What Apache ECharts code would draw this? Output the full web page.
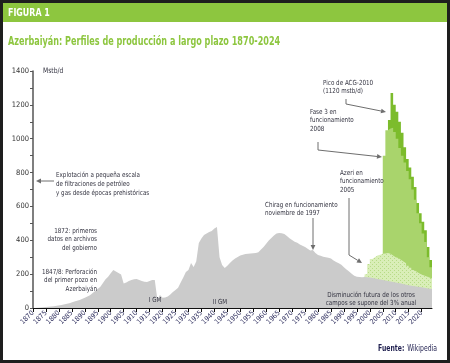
<!DOCTYPE html>
<html><head><meta charset="utf-8">
<script src="https://cdn.jsdelivr.net/npm/echarts@6/dist/echarts.min.js"></script>
<style>html,body{margin:0;padding:0;background:#fff}#c{width:450px;height:363px}</style>
</head><body><div id="c"></div>
<script>
// ---- data ----
const grayYears = [1870,1872,1873,1875,1878,1881,1884,1886,1888,1890,1892,1894,1896,1898,1899,1900,1901,1902,1903,1904,1905,1906,1907,1908,1909,1910,1911,1912,1913,1914,1915,1916,1917,1918,1919,1920,1921,1922,1923,1924,1925,1926,1927,1928,1929,1930,1931,1932,1933,1934,1935,1936,1937,1938,1939,1940,1941,1942,1943,1944,1945,1946,1947,1948,1949,1950,1952,1954,1956,1957,1958,1959,1960,1961,1962,1963,1964,1965,1966,1967,1968,1969,1970,1971,1972,1973,1974,1975,1976,1977,1978,1979,1980,1981,1982,1983,1984,1985,1986,1987,1988,1989,1990,1991,1992,1993,1994,1995,1996,1997,1998,2000,2002,2004,2006,2008,2010,2012,2014,2016,2018,2020,2022,2024];
const grayVals  = [0,1,3,6,10,18,28,38,47,60,75,100,125,170,185,205,224,215,207,198,145,150,160,165,170,171,165,160,155,153,160,165,165,50,77,60,62,68,80,95,106,120,150,180,213,225,266,242,275,384,410,431,440,449,455,470,478,300,254,236,250,266,280,292,301,310,319,322,325,330,345,360,380,398,413,428,440,443,442,437,425,412,402,392,385,375,368,360,350,340,343,325,313,308,303,300,297,292,280,272,265,255,240,228,215,203,190,185,183,182,183,180,175,168,162,156,150,144,138,132,127,122,117,112];

const fieldYears = [1997,1998,1999,2000,2001,2002,2003,2004,2005,2006,2007,2008,2009,2010,2011,2012,2013,2014,2015,2016,2017,2018,2019,2020,2021,2022,2023,2024];
// cumulative top of the dotted early-oil band (Chirag/Azeri)
const earlyTotal = [null,200,260,290,300,310,315,320,322,325,320,310,300,295,285,275,265,250,238,225,215,205,198,192,186,180,175,170];
// cumulative top of the light-green band
const midTotal   = [null,null,null,null,null,null,null,null,900,1050,1060,1065,1040,1000,945,900,860,810,760,700,640,560,500,440,390,300,240,240];
// cumulative top of the dark-green band (ACG)
const acgTotal   = [null,null,null,null,null,null,null,null,null,null,1110,1270,1200,1160,1100,1035,950,880,830,775,715,620,560,510,460,360,283,283];

const yTicks = [0,200,400,600,800,1000,1200,1400];

const pair = (xs, ys) => xs.map((x,i)=>[x, ys[i]]);

function dotPattern(){
  const c=document.createElement('canvas'); c.width=4; c.height=4;
  const g=c.getContext('2d');
  g.fillStyle='#d9eeb8'; g.fillRect(0,0,4,4);
  g.fillStyle='#b7db86'; g.fillRect(0,0,1,1); g.fillRect(2,2,1,1);
  return c;
}

const FONT = '"Liberation Sans Narrow","DejaVu Sans Condensed",Arial,sans-serif';
const TXT = '#333340';
const SX = 0.89;

function arrow(points){
  const n=points.length, p=points[n-1], q=points[n-2];
  const a=Math.atan2(p[1]-q[1], p[0]-q[0]), L=5, W=2.4;
  const bx=p[0]-L*Math.cos(a), by=p[1]-L*Math.sin(a);
  const nx=-Math.sin(a)*W, ny=Math.cos(a)*W;
  return [
    {type:'polyline', shape:{points:points.slice(0,n-1).concat([[bx,by]])}, style:{stroke:'#6e6e6e', lineWidth:1, fill:null}, z:100},
    {type:'polygon', shape:{points:[p,[bx+nx,by+ny],[bx-nx,by-ny]]}, style:{fill:'#6e6e6e'}, z:100}
  ];
}
function txt(x,y,text,align){
  return {type:'text', x:x, y:y, scaleX:SX, z:100, style:{text:text, fill:TXT, font:'7px '+FONT, textAlign:align||'left', textVerticalAlign:'top', lineHeight:8.7}};
}

const chart = echarts.init(document.getElementById('c'), null, {renderer:'canvas'});
chart.setOption({
  animation:false,
  backgroundColor:'#fff',
  grid:{left:33, right:18, top:71, bottom:55},
  xAxis:{type:'value', min:1870, max:2024, interval:5,
    axisLine:{lineStyle:{color:'#111', width:1}},
    axisTick:{show:true, length:4, lineStyle:{color:'#111'}},
    axisLabel:{rotate:45, fontSize:7, fontFamily:FONT, color:'#2e2e5e', margin:4, showMaxLabel:false,
      formatter:v=> (v%5===0? String(v):'')},
    splitLine:{show:false}},
  yAxis:{type:'value', min:0, max:1400, interval:100,
    axisLine:{show:true, lineStyle:{color:'#555', width:1.5}},
    axisTick:{show:true, length:3, lineStyle:{color:'#555'}},
    axisLabel:{fontSize:7.5, fontFamily:FONT, color:'#333', margin:4,
      formatter:v=> (yTicks.indexOf(v)>=0? String(v):'')},
    splitLine:{show:false}},
  series:[
    {type:'line', step:'end', data:pair(fieldYears, acgTotal), symbol:'none', lineStyle:{width:0}, areaStyle:{color:'#7cbc2c', opacity:1}, z:1},
    {type:'line', step:'end', data:pair(fieldYears, midTotal), symbol:'none', lineStyle:{width:0}, areaStyle:{color:'#a9d46c', opacity:1}, z:2},
    {type:'line', step:'end', data:pair(fieldYears, earlyTotal), symbol:'none', lineStyle:{width:0}, areaStyle:{color:{image:dotPattern(), repeat:'repeat'}, opacity:1}, z:3},
    {type:'line', data:pair(grayYears, grayVals), symbol:'none', lineStyle:{width:0}, areaStyle:{color:'#cbcbcb', opacity:1}, z:4}
  ],
  graphic:[
    {type:'rect', shape:{x:0,y:0,width:450,height:363}, style:{fill:null, stroke:'#1e1e1e', lineWidth:6}, z:200},
    {type:'rect', shape:{x:3,y:3,width:444,height:19}, style:{fill:'#8dc63f'}, z:150},
    {type:'text', x:8, y:13, scaleX:0.8, z:160, style:{text:'FIGURA 1', fill:'#fff', font:'bold 11px '+FONT, textVerticalAlign:'middle'}},
    {type:'text', x:8, y:42, scaleX:0.72, z:160, style:{text:'Azerbaiyán: Perfiles de producción a largo plazo 1870-2024', fill:'#8dc63f', font:'bold 12.5px '+FONT, textVerticalAlign:'middle'}},
    {type:'text', x:43, y:71, scaleX:SX, z:100, style:{text:'Mstb/d', fill:TXT, font:'7.5px '+FONT, textVerticalAlign:'middle'}},
    txt(56,171,'Explotación a pequeña escala\nde filtraciones de petróleo\ny gas desde épocas prehistóricas','left'),
    ...arrow([[54,181],[36,181]]),
    txt(97,226.5,'1872: primeros\ndatos en archivos\ndel gobierno','right'),
    txt(97,267.5,'1847/8: Perforación\ndel primer pozo en\nAzerbaiyán','right'),
    {type:'text', x:155, y:300, scaleX:SX, z:100, style:{text:'I GM', fill:TXT, font:'7px '+FONT, textAlign:'center', textVerticalAlign:'middle'}},
    {type:'text', x:220, y:302, scaleX:SX, z:100, style:{text:'II GM', fill:TXT, font:'7px '+FONT, textAlign:'center', textVerticalAlign:'middle'}},
    txt(265,200.5,'Chirag en funcionamiento\nnoviembre de 1997','left'),
    ...arrow([[313,218],[313,250]]),
    txt(340,168.5,'Azeri en\nfuncionamiento\n2005','left'),
    ...arrow([[349,198],[349,255],[362,263]]),
    txt(310,107.5,'Fase 3 en\nfuncionamiento\n2008','left'),
    ...arrow([[318,142],[318,150],[382,157]]),
    txt(323,78.5,'Pico de ACG-2010\n(1120 mstb/d)','left'),
    ...arrow([[346,99],[346,104],[386,112]]),
    txt(371,290.5,'Disminución futura de los otros\ncampos se supone del 3% anual','center'),
    {type:'text', x:437, y:349, scaleX:0.85, z:100, style:{rich:{b:{font:'bold 8px '+FONT, fill:'#1e1e4e'}, r:{font:'8px '+FONT, fill:'#1e1e4e'}}, text:'{b|Fuente:} {r|Wikipedia}', textAlign:'right', textVerticalAlign:'middle'}}
  ]
});
</script></body></html>
